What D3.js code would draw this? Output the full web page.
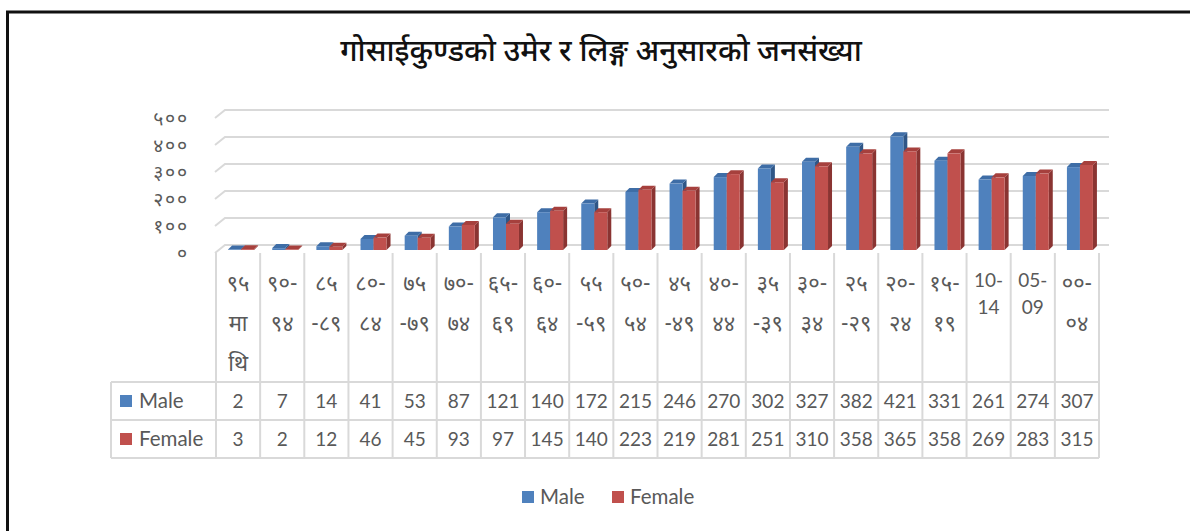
<!DOCTYPE html>
<html>
<head>
<meta charset="utf-8">
<script src="https://cdn.jsdelivr.net/npm/d3@7"></script>
<style>
  html, body { margin: 0; padding: 0; background: #fff; }
  svg { display: block; }
  .dev { font-family: "Noto Sans Devanagari", "Lohit Devanagari", "Noto Sans", sans-serif; }
  .lat { font-family: Lato, "Open Sans", sans-serif; }
</style>
</head>
<body>
<svg id="chart" width="1190" height="531"></svg>
<script>
const title = "गोसाईकुण्डको उमेर र लिङ्ग अनुसारको जनसंख्या";
const categories = ["९५ माथि","९०-९४","८५-८९","८०-८४","७५-७९","७०-७४","६५-६९","६०-६४","५५-५९","५०-५४","४५-४९","४०-४४","३५-३९","३०-३४","२५-२९","२०-२४","१५-१९","10-14","05-09","००-०४"];
const categoryLines = [["९५","मा","थि"],["९०-","९४"],["८५","-८९"],["८०-","८४"],["७५","-७९"],["७०-","७४"],["६५-","६९"],["६०-","६४"],["५५","-५९"],["५०-","५४"],["४५","-४९"],["४०-","४४"],["३५","-३९"],["३०-","३४"],["२५","-२९"],["२०-","२४"],["१५-","१९"],["10-","14"],["05-","09"],["००-","०४"]];
const maleValues   = [2,7,14,41,53,87,121,140,172,215,246,270,302,327,382,421,331,261,274,307];
const femaleValues = [3,2,12,46,45,93,97,145,140,223,219,281,251,310,358,365,358,269,283,315];
const seriesNames = ["Male","Female"];
const yTicks = [0,100,200,300,400,500];
const yTickLabels = ["०","१००","२००","३००","४००","५००"];

const colors = {
  Male:   {front:"#4F81BD", side:"#2F5686", top:"#3E6DA6"},
  Female: {front:"#C0504D", side:"#8A3432", top:"#A6403D"}
};
const series = [
  {name:"Male", values:maleValues},
  {name:"Female", values:femaleValues}
];

const svg = d3.select("#chart");
const gray = "#595959";
const gridC = "#D9D9D9";

// outer frame (left + top)
svg.append("path").attr("d","M7.5,531 L7.5,12 L1190,12").attr("fill","none").attr("stroke","#111").attr("stroke-width",3);

// title
svg.append("text").attr("class","dev").attr("x",601).attr("y",61).attr("text-anchor","middle")
  .attr("font-size",30).attr("font-weight",500).attr("fill","#111").text(title);

// scales
const x = d3.scaleBand().domain(categories).range([216,1099]).padding(0);
const floorFront = 253, floorBar = 250, floorBack = 245;
const dxWall = 10;
const yFront = d3.scaleLinear().domain([0,500]).range([floorFront, floorFront-135]);
const yBack  = d3.scaleLinear().domain([0,500]).range([floorBack, floorBack-135]);
const yBar   = d3.scaleLinear().domain([0,500]).range([floorBar, floorBar-135]);

const xLeft = 216, xRight = 1099;

// gridlines on back wall + side wall diagonals
const grid = svg.append("g");
yTicks.forEach(t => {
  if (t === 0) return;
  grid.append("path")
    .attr("d", `M${xLeft-1},${yFront(t)} L${xLeft-1+dxWall},${yBack(t)} L${xRight+dxWall},${yBack(t)}`)
    .attr("fill","none").attr("stroke",gridC).attr("stroke-width",2);
});
// floor
grid.append("path")
  .attr("d", `M${xLeft-1},${floorFront} L${xLeft-1+dxWall},${floorBack} L${xRight+dxWall},${floorBack}`)
  .attr("fill","none").attr("stroke",gridC).attr("stroke-width",2);

// y labels
svg.append("g").selectAll("text").data(yTicks).join("text")
  .attr("class","dev")
  .attr("x",189).attr("y",d=>yFront(d)).attr("dy","0.35em")
  .attr("text-anchor","end").attr("font-size",19.5).attr("letter-spacing",1.8).attr("fill",gray)
  .text((d,i)=>yTickLabels[i]);

// bars
const bw = 13, bOff = -10, dX = 4, dY = 4;
const bars = svg.append("g");
categories.forEach((c,i) => {
  series.forEach((s,si) => {
    const v = s.values[i];
    const x0 = x(c) + x.bandwidth()/2 + bOff + si*bw;
    const yt = yBar(v);
    const col = colors[s.name];
    bars.append("polygon")
      .attr("points",`${x0+bw},${yt} ${x0+bw+dX},${yt-dY} ${x0+bw+dX},${floorBar-dY} ${x0+bw},${floorBar}`)
      .attr("fill",col.side);
    bars.append("polygon")
      .attr("points",`${x0},${yt} ${x0+dX},${yt-dY} ${x0+bw+dX},${yt-dY} ${x0+bw},${yt}`)
      .attr("fill",col.top);
    bars.append("rect").attr("x",x0).attr("y",yt).attr("width",bw).attr("height",Math.max(0,floorBar-yt))
      .attr("fill",col.front);
  });
});

// data table
const tbl = svg.append("g");
const rowTop = 382, rowH = 38, tblLeft = 111;
const tableBottom = rowTop + 2*rowH;
categories.forEach(c => {
  tbl.append("line").attr("x1",x(c)).attr("x2",x(c)).attr("y1",floorFront).attr("y2",tableBottom)
    .attr("stroke",gridC).attr("stroke-width",2);
});
tbl.append("line").attr("x1",xRight).attr("x2",xRight).attr("y1",floorFront).attr("y2",tableBottom)
  .attr("stroke",gridC).attr("stroke-width",2);
tbl.append("line").attr("x1",tblLeft).attr("x2",tblLeft).attr("y1",rowTop).attr("y2",tableBottom)
  .attr("stroke",gridC).attr("stroke-width",2);
[0,1,2].forEach(r => {
  tbl.append("line").attr("x1",tblLeft).attr("x2",xRight).attr("y1",rowTop+r*rowH).attr("y2",rowTop+r*rowH)
    .attr("stroke",gridC).attr("stroke-width",2);
});

// category header labels
categories.forEach((c,i) => {
  const lines = categoryLines[i];
  const latin = /[0-9]/.test(lines[0]);
  lines.forEach((ln,li) => {
    tbl.append("text")
      .attr("class", latin ? "lat" : "dev")
      .attr("x", x(c)+x.bandwidth()/2)
      .attr("y", latin ? 280 + li*27 : 283 + li*40)
      .attr("dy","0.35em").attr("text-anchor","middle")
      .attr("font-size", latin ? 19 : 22).attr("fill",gray)
      .text(ln);
  });
});

// row headers & values
series.forEach((s,si) => {
  const cy = rowTop + si*rowH + rowH/2;
  tbl.append("rect").attr("x",120).attr("y",cy-6).attr("width",12).attr("height",12).attr("fill",colors[s.name].front);
  tbl.append("text").attr("class","lat").attr("x",139).attr("y",cy).attr("dy","0.35em")
    .attr("font-size",20.5).attr("fill",gray).text(s.name);
  categories.forEach((c,i) => {
    tbl.append("text").attr("class","lat")
      .attr("x", x(c)+x.bandwidth()/2).attr("y", cy).attr("dy","0.35em")
      .attr("text-anchor","middle").attr("font-size",19).attr("fill",gray)
      .text(s.values[i]);
  });
});

// legend
const leg = svg.append("g");
const legItems = [{name:"Male", x:522},{name:"Female", x:612}];
legItems.forEach(it => {
  leg.append("rect").attr("x",it.x).attr("y",491).attr("width",12).attr("height",12).attr("fill",colors[it.name].front);
  leg.append("text").attr("class","lat").attr("x",it.x+18).attr("y",497).attr("dy","0.35em")
    .attr("font-size",20.5).attr("fill",gray).text(it.name);
});
</script>
</body>
</html>
